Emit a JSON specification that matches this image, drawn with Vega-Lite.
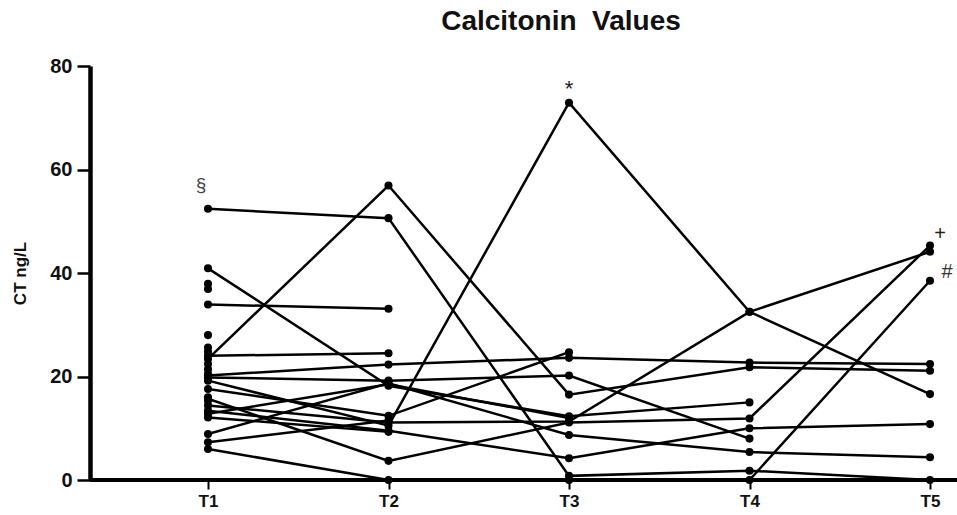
{
  "$schema": "https://vega.github.io/schema/vega-lite/v6.json",
  "width": 868,
  "height": 414,
  "padding": {"left": 11, "top": 8, "right": 0, "bottom": 5},
  "background": "white",
  "title": {"text": "Calcitonin\u00a0 Values", "font": "Liberation Sans", "fontSize": 28, "fontWeight": "bold", "offset": 20, "color": "#111", "anchor": "middle", "dx": 37},
  "config": {
    "view": {"stroke": null},
    "font": "Liberation Sans",
    "axisX": {"domain": false, "tickSize": 9, "tickWidth": 2, "tickColor": "black", "labelFont": "Liberation Sans", "labelFontWeight": "bold", "labelFontSize": 17, "labelColor": "#111", "labelPadding": 4, "labelAngle": 0, "grid": false, "title": null},
    "axisY": {"domain": true, "domainWidth": 4.5, "domainColor": "black", "tickSize": 13, "tickWidth": 2.5, "tickColor": "black", "labelFont": "Liberation Sans", "labelFontWeight": "bold", "labelFontSize": 20, "labelColor": "#111", "labelPadding": 5, "grid": false, "titleFont": "Liberation Sans", "titleFontSize": 17, "titleFontWeight": "bold", "titleColor": "#111", "titlePadding": 20}
  },
  "datasets": {
    "pts": [
      {"p": "P1", "t": "T1", "v": 52.4}, {"p": "P1", "t": "T2", "v": 50.6}, {"p": "P1", "t": "T3", "v": 0.8}, {"p": "P1", "t": "T4", "v": 1.8}, {"p": "P1", "t": "T5", "v": 0},
      {"p": "P2", "t": "T1", "v": 40.9}, {"p": "P2", "t": "T2", "v": 18.2}, {"p": "P2", "t": "T3", "v": 12.3}, {"p": "P2", "t": "T4", "v": 15.0},
      {"p": "P3", "t": "T1", "v": 33.9}, {"p": "P3", "t": "T2", "v": 33.1},
      {"p": "P4", "t": "T1", "v": 23.4}, {"p": "P4", "t": "T2", "v": 56.9}, {"p": "P4", "t": "T3", "v": 16.5}, {"p": "P4", "t": "T4", "v": 21.8}, {"p": "P4", "t": "T5", "v": 21.1},
      {"p": "P5", "t": "T1", "v": 24.0}, {"p": "P5", "t": "T2", "v": 24.5},
      {"p": "P6", "t": "T1", "v": 20.2}, {"p": "P6", "t": "T2", "v": 22.3}, {"p": "P6", "t": "T3", "v": 23.6}, {"p": "P6", "t": "T4", "v": 22.7}, {"p": "P6", "t": "T5", "v": 22.4},
      {"p": "P7", "t": "T1", "v": 19.8}, {"p": "P7", "t": "T2", "v": 19.2}, {"p": "P7", "t": "T3", "v": 20.2}, {"p": "P7", "t": "T4", "v": 8.0},
      {"p": "P8", "t": "T1", "v": 19.2}, {"p": "P8", "t": "T2", "v": 10.5}, {"p": "P8", "t": "T3", "v": 72.9}, {"p": "P8", "t": "T4", "v": 32.5}, {"p": "P8", "t": "T5", "v": 16.6},
      {"p": "P9", "t": "T1", "v": 17.6}, {"p": "P9", "t": "T2", "v": 12.4}, {"p": "P9", "t": "T3", "v": 24.7},
      {"p": "P10", "t": "T1", "v": 15.7}, {"p": "P10", "t": "T2", "v": 3.7}, {"p": "P10", "t": "T3", "v": 11.1}, {"p": "P10", "t": "T4", "v": 11.9}, {"p": "P10", "t": "T5", "v": 45.3},
      {"p": "P11", "t": "T1", "v": 14.4}, {"p": "P11", "t": "T2", "v": 11.1}, {"p": "P11", "t": "T3", "v": 11.3}, {"p": "P11", "t": "T4", "v": 32.5}, {"p": "P11", "t": "T5", "v": 44.1},
      {"p": "P12", "t": "T1", "v": 13.4}, {"p": "P12", "t": "T2", "v": 9.5}, {"p": "P12", "t": "T3", "v": 4.2}, {"p": "P12", "t": "T4", "v": 10.0}, {"p": "P12", "t": "T5", "v": 10.8},
      {"p": "P13", "t": "T1", "v": 12.8}, {"p": "P13", "t": "T2", "v": 18.5}, {"p": "P13", "t": "T3", "v": 12.0},
      {"p": "P14", "t": "T1", "v": 8.9}, {"p": "P14", "t": "T2", "v": 18.7}, {"p": "P14", "t": "T3", "v": 8.7}, {"p": "P14", "t": "T4", "v": 5.4}, {"p": "P14", "t": "T5", "v": 4.4},
      {"p": "P15", "t": "T1", "v": 7.3}, {"p": "P15", "t": "T2", "v": 11.5},
      {"p": "P16", "t": "T1", "v": 6.0}, {"p": "P16", "t": "T2", "v": 0}, {"p": "P16", "t": "T3", "v": 0}, {"p": "P16", "t": "T4", "v": 0}, {"p": "P16", "t": "T5", "v": 38.5},
      {"p": "P17", "t": "T1", "v": 12.1}, {"p": "P17", "t": "T2", "v": 9.3},
      {"p": "P18", "t": "T1", "v": 37.9},
      {"p": "P19", "t": "T1", "v": 36.9},
      {"p": "P20", "t": "T1", "v": 28.0},
      {"p": "P21", "t": "T1", "v": 25.6},
      {"p": "P22", "t": "T1", "v": 24.8},
      {"p": "P23", "t": "T1", "v": 22.4},
      {"p": "P24", "t": "T1", "v": 21.4},
      {"p": "P25", "t": "T1", "v": 16.0},
      {"p": "P26", "t": "T1", "v": 15.3},
      {"p": "P27", "t": "T1", "v": 20.5}
    ],
    "notes": [
      {"t": "T1", "v": 57.0, "label": "§"},
      {"t": "T3", "v": 75.6, "label": "*"},
      {"t": "T5", "v": 47.6, "label": "+"},
      {"t": "T5", "v": 40.2, "label": "#"}
    ]
  },
  "layer": [
    {
      "data": {"name": "pts"},
      "mark": {"type": "rule", "color": "black", "strokeWidth": 2.5},
      "encoding": {"y": {"datum": 0, "type": "quantitative"}}
    },
    {
      "data": {"name": "pts"},
      "mark": {"type": "line", "color": "black", "strokeWidth": 2.5},
      "encoding": {
        "x": {"field": "t", "type": "ordinal", "scale": {"type": "point", "domain": ["T1", "T2", "T3", "T4", "T5"], "range": [118, 840], "padding": 0}},
        "y": {"field": "v", "type": "quantitative", "scale": {"domain": [0, 80], "nice": false}, "axis": {"values": [0, 20, 40, 60, 80], "title": "CT ng/L"}},
        "detail": {"field": "p"}
      }
    },
    {
      "data": {"name": "pts"},
      "mark": {"type": "point", "filled": true, "color": "black", "size": 65, "opacity": 1},
      "encoding": {
        "x": {"field": "t", "type": "ordinal"},
        "y": {"field": "v", "type": "quantitative"}
      }
    },
    {
      "data": {"name": "notes"},
      "transform": [{"filter": "datum.label == '§'"}],
      "mark": {"type": "text", "fontSize": 19, "color": "#444", "dx": -7, "baseline": "middle"},
      "encoding": {"x": {"field": "t", "type": "ordinal"}, "y": {"field": "v", "type": "quantitative"}, "text": {"field": "label"}}
    },
    {
      "data": {"name": "notes"},
      "transform": [{"filter": "datum.label == '*'"}],
      "mark": {"type": "text", "fontSize": 22, "color": "#222", "dx": 0, "baseline": "middle"},
      "encoding": {"x": {"field": "t", "type": "ordinal"}, "y": {"field": "v", "type": "quantitative"}, "text": {"field": "label"}}
    },
    {
      "data": {"name": "notes"},
      "transform": [{"filter": "datum.label == '+'"}],
      "mark": {"type": "text", "fontSize": 20, "color": "#222", "dx": 10, "baseline": "middle"},
      "encoding": {"x": {"field": "t", "type": "ordinal"}, "y": {"field": "v", "type": "quantitative"}, "text": {"field": "label"}}
    },
    {
      "data": {"name": "notes"},
      "transform": [{"filter": "datum.label == '#'"}],
      "mark": {"type": "text", "fontSize": 20, "color": "#333", "dx": 17, "baseline": "middle"},
      "encoding": {"x": {"field": "t", "type": "ordinal"}, "y": {"field": "v", "type": "quantitative"}, "text": {"field": "label"}}
    }
  ]
}
